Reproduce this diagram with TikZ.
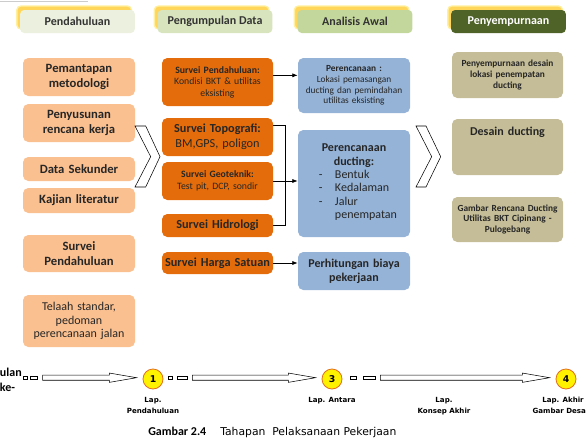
\documentclass[tikz,border=0pt]{standalone}
\usepackage{fontspec}
\setmainfont{Carlito}
\newfontfamily\verdfont{DejaVu Sans}
\usetikzlibrary{arrows.meta,calc,shadows}

\definecolor{phaseA}{RGB}{235,241,222}
\definecolor{phaseB}{RGB}{215,228,189}
\definecolor{phaseC}{RGB}{195,214,155}
\definecolor{phaseD}{RGB}{79,98,40}
\definecolor{shadowyellow}{RGB}{255,214,90}
\definecolor{glowyellow}{RGB}{255,240,160}
\definecolor{peach}{RGB}{250,192,144}
\definecolor{orangeb}{RGB}{228,108,10}
\definecolor{blueb}{RGB}{149,179,215}
\definecolor{khaki}{RGB}{196,189,151}
\definecolor{ringorange}{RGB}{226,110,30}

% hollow block arrow of the time line
\newcommand{\tlarrow}[2]{%
  \draw[hollow] let \p1=(#1.east), \p2=(#2.west) in
    (\x1+3.75pt,\y1+1.9pt) -- (\x2-25pt,\y1+1.9pt) -- (\x2-25pt,\y1+3.5pt)
    -- (\x2-4.5pt,\y1) -- (\x2-25pt,\y1-3.5pt) -- (\x2-25pt,\y1-1.9pt)
    -- (\x1+3.75pt,\y1-1.9pt) -- cycle;}

\tikzset{
  phase/.style={rounded corners=3pt, minimum width=86pt, minimum height=17.25pt,
    inner sep=0pt, font=\bfseries\fontsize{9}{10}\selectfont, text=black!80,
    general shadow={fill=shadowyellow, draw=glowyellow, line width=1pt,
      shadow xshift=-2.5pt, shadow yshift=3pt}},
  box/.style={rounded corners=4pt, minimum width=84pt, text width=80pt,
    inner sep=2pt, align=center, text=black!85},
  prep/.style={box, fill=peach, font=\bfseries\fontsize{9.5}{11}\selectfont},
  survey/.style={box, fill=orangeb, minimum width=83.25pt, text width=81.25pt, inner xsep=1pt},
  plan/.style={box, fill=blueb},
  final/.style={box, fill=khaki, minimum width=83.25pt, text width=79.25pt},
  small/.style={font=\fontsize{7.3}{8.6}\selectfont},
  big/.style={font=\fontsize{9.2}{11.2}\selectfont},
  link/.style={-{Latex[length=4pt,width=3pt]}, line width=0.5pt},
  chev/.style={draw, fill=white, line width=0.4pt},
  hollow/.style={draw, fill=white, line width=0.4pt},
  tick/.style={draw, fill=white, minimum height=2.5pt, inner sep=0pt, line width=0.4pt},
  stop/.style={circle, draw=ringorange, fill=yellow, minimum size=15pt, inner sep=0pt,
    line width=0.6pt, font=\verdfont\bfseries\fontsize{7}{8}\selectfont},
  lap/.style={anchor=north, align=center, inner sep=0pt,
    font=\verdfont\bfseries\fontsize{5.3}{8.2}\selectfont}
}

\begin{document}
\begin{tikzpicture}[x=0.75pt, y=-0.75pt]
\useasboundingbox (0,0) rectangle (586,446);
\draw[black!20, line width=0.6pt] (0,1) -- (88,1);

% phase headers
\node[phase, fill=phaseA] (hpend) at (77.5,21.5) {Pendahuluan};
\node[phase, fill=phaseB] (hdata) at (215,21.5) {Pengumpulan Data};
\node[phase, fill=phaseC] (hawal) at (355,21.5) {Analisis Awal};
\node[phase, fill=phaseD, text=white] (hfinal) at (508.5,21.5) {Penyempurnaan};

% pendahuluan
\node[prep, minimum height=28.5pt] (metode) at (79,77) {Pemantapan\\metodologi};
\node[prep, minimum height=28.5pt] (renja) at (79,123) {Penyusunan\\rencana kerja};
\node[prep, minimum height=18pt] (sekunder) at (79,169) {Data Sekunder};
\node[prep, minimum height=18.75pt] (literatur) at (79,200.5) {Kajian literatur};
\node[prep, minimum height=27.75pt] (survpend) at (79,253.5) {Survei\\Pendahuluan};
\node[prep, minimum height=39pt, font=\fontsize{9}{10.2}\selectfont] (telaah) at (79,321)
  {Telaah standar,\\pedoman\\perencanaan jalan};

% pengumpulan data
\node[survey, small, minimum height=36pt] (kondisi) at (217.5,82)
  {\textbf{Survei Pendahuluan:}\\Kondisi BKT \& utilitas\\eksisting};
\node[survey, big, minimum height=28.5pt] (topo) at (217.5,137)
  {\textbf{Survei Topografi:}\\BM,GPS, poligon};
\node[survey, small, minimum height=28.5pt] (geotek) at (217.5,181)
  {\textbf{Survei Geoteknik:}\\Test pit, DCP, sondir};
\node[survey, big, minimum height=17.25pt] (hidro) at (217.5,225.5)
  {\textbf{Survei Hidrologi}};
\node[survey, big, minimum height=16.5pt] (harga) at (217.5,263)
  {\textbf{Survei Harga Satuan}};

% analisis awal
\node[plan, small, minimum height=41.25pt, font=\fontsize{7}{8.1}\selectfont] (lokasi) at (354,85.5)
  {\textbf{Perencanaan :}\\Lokasi pemasangan\\ducting dan pemindahan\\utilitas eksisting};
\node[plan, minimum height=80.25pt, font=\fontsize{9}{10.2}\selectfont] (ducting) at (354,183.5)
  {{\bfseries Perencanaan\\ducting:}\\
   \begin{tabular}{@{\hspace{6pt}}p{12pt}@{}l@{}}
   -&Bentuk\\ -&Kedalaman\\ -&Jalur\\ &penempatan
   \end{tabular}\hspace*{0pt}};
\node[plan, minimum height=28.5pt, font=\bfseries\fontsize{9}{10.5}\selectfont] (biaya) at (354,271)
  {Perhitungan biaya\\pekerjaan};

% penyempurnaan
\node[final, minimum height=34.5pt, font=\bfseries\fontsize{7}{8.5}\selectfont] (desainlok) at (507.5,75)
  {Penyempurnaan desain\\lokasi penempatan\\ducting};
\node[final, text height=10pt, text depth=28pt, font=\bfseries\fontsize{9}{10}\selectfont] (desain) at (507.5,147)
  {Desain ducting};
\node[final, minimum height=33.75pt, font=\bfseries\fontsize{7}{8.2}\selectfont] (gambar) at (507.5,219.5)
  {Gambar Rencana Ducting\\Utilitas BKT Cipinang -\\Pulogebang};

% chevrons
\draw[chev] (135,126) -- (145.7,126) -- (160,156.7) -- (145.7,187) -- (135,187) -- (150.7,156.7) -- cycle;
\draw[chev] (416,126) -- (426,126) -- (440.7,156.7) -- (426,187) -- (416,187) -- (431.7,156.7) -- cycle;

% connectors
\draw[link] ([yshift=5pt]kondisi.east) -- ([yshift=5pt]kondisi.east -| lokasi.west);
\draw[line width=0.5pt] ([yshift=9pt]topo.east) -- ++(12,0) |- (hidro.east);
\draw[link] (geotek.east) -- (geotek.east -| ducting.west);
\draw[link] (harga.east) -- (harga.east -| biaya.west);

% time line
\node[font=\bfseries\fontsize{9}{11}\selectfont, align=center, inner sep=0pt] (bulan) at (7.5,379.5) {Bulan\\ke-};
\node[tick, minimum width=3pt] (t1a) at (25,377.7) {};
\node[tick, minimum width=5pt] (t1b) at (34,377.7) {};
\node[stop] (c1) at (153,379) {1};
\node[tick, minimum width=3pt] (t2a) at (170,377.7) {};
\node[tick, minimum width=7.5pt] (t2b) at (182,377.7) {};
\node[stop] (c3) at (332,379) {3};
\node[tick, minimum width=4.5pt] (t3a) at (353,377.7) {};
\node[tick, minimum width=9pt] (t3b) at (369,377.7) {};
\node[stop] (c4) at (566,379) {4};
\tlarrow{t1b}{c1}
\tlarrow{t2b}{c3}
\tlarrow{t3b}{c4}

\node[lap] (lap1) at (153,397) {Lap.\\Pendahuluan};
\node[lap] (lap3) at (332,397) {Lap. Antara};
\node[lap] (lapk) at (444,397) {Lap.\\Konsep Akhir};
\node[lap] (lap4) at (563,397) {Lap. Akhir\\Gambar Desain};

% caption
\node[anchor=base west, inner sep=0pt, font=\bfseries\fontsize{9}{10}\selectfont] (capnum) at (148,435) {Gambar 2.4};
\node[anchor=base west, inner sep=0pt, font=\verdfont\fontsize{8.1}{9}\selectfont] (captxt) at (220,435) {Tahapan\ \ Pelaksanaan Pekerjaan};
\end{tikzpicture}
\end{document}
